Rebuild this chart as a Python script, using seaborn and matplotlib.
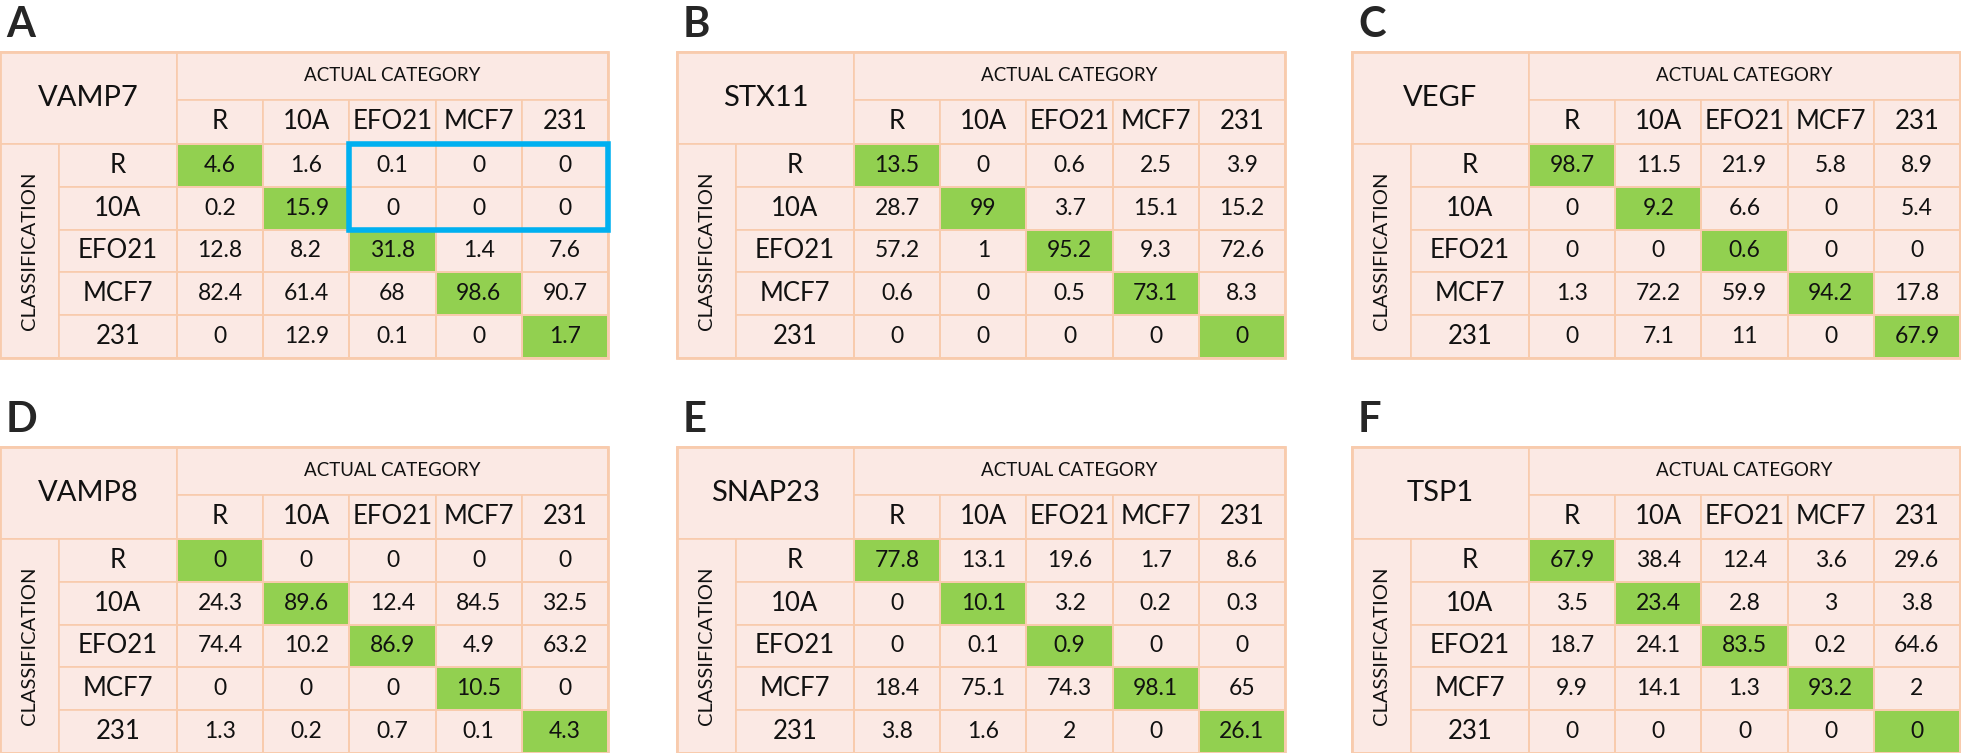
import numpy as np
import seaborn as sns
import matplotlib.pyplot as plt
from matplotlib.colors import ListedColormap
from matplotlib.patches import Rectangle

classes = ["R", "10A", "EFO21", "MCF7", "231"]
letters = ["A", "B", "C", "D", "E", "F"]
genes = ["VAMP7", "STX11", "VEGF", "VAMP8", "SNAP23", "TSP1"]

# rows = classification, columns = actual category (%)
vamp7 = [[4.6, 1.6, 0.1, 0, 0],
         [0.2, 15.9, 0, 0, 0],
         [12.8, 8.2, 31.8, 1.4, 7.6],
         [82.4, 61.4, 68, 98.6, 90.7],
         [0, 12.9, 0.1, 0, 1.7]]
stx11 = [[13.5, 0, 0.6, 2.5, 3.9],
         [28.7, 99, 3.7, 15.1, 15.2],
         [57.2, 1, 95.2, 9.3, 72.6],
         [0.6, 0, 0.5, 73.1, 8.3],
         [0, 0, 0, 0, 0]]
vegf = [[98.7, 11.5, 21.9, 5.8, 8.9],
        [0, 9.2, 6.6, 0, 5.4],
        [0, 0, 0.6, 0, 0],
        [1.3, 72.2, 59.9, 94.2, 17.8],
        [0, 7.1, 11, 0, 67.9]]
vamp8 = [[0, 0, 0, 0, 0],
         [24.3, 89.6, 12.4, 84.5, 32.5],
         [74.4, 10.2, 86.9, 4.9, 63.2],
         [0, 0, 0, 10.5, 0],
         [1.3, 0.2, 0.7, 0.1, 4.3]]
snap23 = [[77.8, 13.1, 19.6, 1.7, 8.6],
          [0, 10.1, 3.2, 0.2, 0.3],
          [0, 0.1, 0.9, 0, 0],
          [18.4, 75.1, 74.3, 98.1, 65],
          [3.8, 1.6, 2, 0, 26.1]]
tsp1 = [[67.9, 38.4, 12.4, 3.6, 29.6],
        [3.5, 23.4, 2.8, 3, 3.8],
        [18.7, 24.1, 83.5, 0.2, 64.6],
        [9.9, 14.1, 1.3, 93.2, 2],
        [0, 0, 0, 0, 0]]
matrices = [vamp7, stx11, vegf, vamp8, snap23, tsp1]

PINK = "#fbe9e4"
EDGE = "#f8cbad"
GREEN = "#92d050"
BLUE = "#00b0f0"

sns.set_theme(style="white")
plt.rcParams["font.family"] = ["Lato", "DejaVu Sans"]

W, H = 1961, 753
fig = plt.figure(figsize=(W / 100, H / 100), dpi=100)

lefts = [0, 677, 1352]
tops = [52, 447]
tw, th = 608, 306

# header sizes in cell units
HX, CX = 2.053, 0.684
HY1, HY2 = 1.121, 1.028
HY = HY1 + HY2

for k, (mat, gene, letter) in enumerate(zip(matrices, genes, letters)):
    left = lefts[k % 3]
    top = tops[k // 3]
    ax = fig.add_axes([left / W, 1 - (top + th) / H, tw / W, th / H])

    labels = np.array([[f"{v:g}" for v in row] for row in mat])
    diag = np.eye(len(classes))

    sns.heatmap(diag, ax=ax, cmap=ListedColormap([PINK, GREEN]), vmin=0, vmax=1,
                cbar=False, annot=labels, fmt="", linewidths=1.2, linecolor=EDGE,
                annot_kws={"fontsize": 16.5, "color": "#111111"},
                xticklabels=False, yticklabels=False)
    ax.set_xlim(-HX, 5)
    ax.set_ylim(5, -HY)

    def cell(x, y, w, h):
        ax.add_patch(Rectangle((x, y), w, h, facecolor=PINK, edgecolor=EDGE,
                               lw=1.2, clip_on=False, zorder=0.5))

    cell(-HX, -HY, HX, HY)
    ax.text(-HX / 2, -HY / 2, gene, ha="center", va="center", fontsize=21, color="#111111")
    cell(0, -HY, 5, HY1)
    ax.text(2.5, -HY + HY1 / 2, "ACTUAL CATEGORY", ha="center", va="center",
            fontsize=13.5, color="#111111")
    for j, c in enumerate(classes):
        cell(j, -HY2, 1, HY2)
        ax.text(j + 0.5, -HY2 / 2, c, ha="center", va="center", fontsize=18.5, color="#111111")
    cell(-HX, 0, CX, 5)
    ax.text(-HX + CX / 2, 2.5, "CLASSIFICATION", ha="center", va="center",
            rotation=90, fontsize=14.5, color="#111111")
    for i, c in enumerate(classes):
        cell(-HX + CX, i, HX - CX, 1)
        ax.text(-HX + CX + (HX - CX) / 2, i + 0.5, c, ha="center", va="center",
                fontsize=18.5, color="#111111")

    # outer border
    ax.add_patch(Rectangle((-HX, -HY), HX + 5, HY + 5, fill=False, edgecolor=EDGE,
                           lw=2, clip_on=False, zorder=3))

    if k == 0:
        ax.add_patch(Rectangle((2, 0), 3, 2, fill=False, edgecolor=BLUE, lw=4,
                               clip_on=False, zorder=4))

    fig.text((left + 6) / W, 1 - (top - 15) / H, letter, fontsize=30,
             fontweight="bold", ha="left", va="baseline")

fig.savefig("out.png", dpi=100)
